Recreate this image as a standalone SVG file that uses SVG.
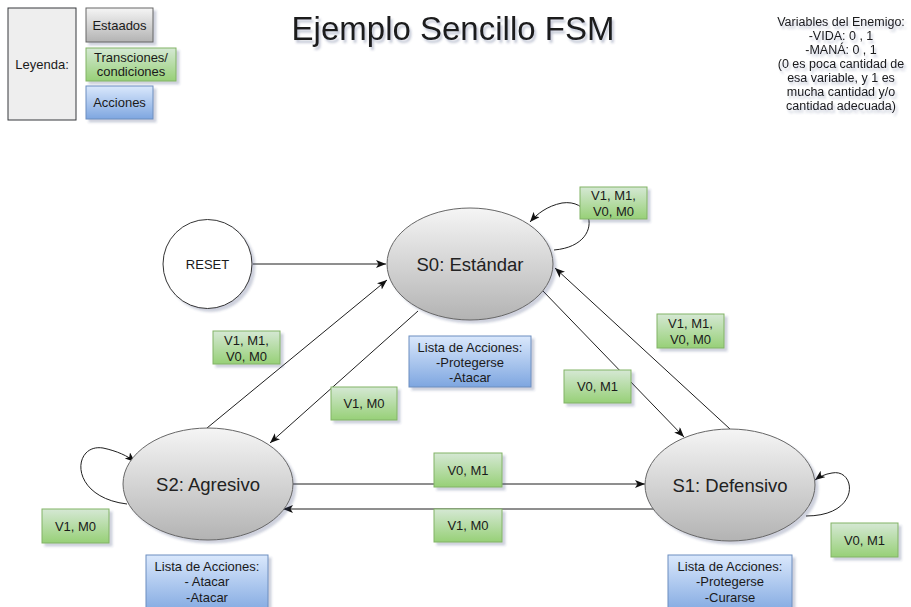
<svg xmlns="http://www.w3.org/2000/svg" width="911" height="607" viewBox="0 0 911 607">
  <style>
    text { font-family: "Liberation Sans", Arial, sans-serif; fill: #1a1a1a; }
    .lbl { font-size: 13px; text-anchor: middle; }
    .small { font-size: 12.5px; text-anchor: middle; }
    .state { font-size: 18.5px; text-anchor: middle; fill: #222; }
    .edge { fill: none; stroke: #1f1f1f; stroke-width: 1; }
    .green { fill: url(#gGreen); stroke: #82b366; stroke-width: 1; filter: url(#shadow); }
    .blue { fill: url(#gBlue); stroke: #6c8ebf; stroke-width: 1; filter: url(#shadow); }
    .gray { fill: url(#gGray); stroke: #666666; stroke-width: 1; filter: url(#shadow); }
  </style>
  <defs>
    <linearGradient id="gGreen" x1="0" y1="0" x2="0" y2="1">
      <stop offset="0" stop-color="#d5e8d4"/>
      <stop offset="1" stop-color="#97d077"/>
    </linearGradient>
    <linearGradient id="gBlue" x1="0" y1="0" x2="0" y2="1">
      <stop offset="0" stop-color="#dae8fc"/>
      <stop offset="1" stop-color="#7ea6e0"/>
    </linearGradient>
    <linearGradient id="gGray" x1="0" y1="0" x2="0" y2="1">
      <stop offset="0" stop-color="#f5f5f5"/>
      <stop offset="1" stop-color="#b3b3b3"/>
    </linearGradient>
    <filter id="shadow" x="-20%" y="-20%" width="150%" height="150%">
      <feGaussianBlur in="SourceAlpha" stdDeviation="1.2"/>
      <feOffset dx="2.5" dy="3" result="off"/>
      <feFlood flood-color="#3c4a78" flood-opacity="0.25"/>
      <feComposite in2="off" operator="in"/>
      <feMerge>
        <feMergeNode/>
        <feMergeNode in="SourceGraphic"/>
      </feMerge>
    </filter>
    <filter id="tshadow" x="-10%" y="-30%" width="120%" height="160%">
      <feGaussianBlur in="SourceAlpha" stdDeviation="1.2"/>
      <feOffset dx="2" dy="2.5" result="off"/>
      <feFlood flood-color="#3c4a78" flood-opacity="0.3"/>
      <feComposite in2="off" operator="in"/>
      <feMerge>
        <feMergeNode/>
        <feMergeNode in="SourceGraphic"/>
      </feMerge>
    </filter>
    <marker id="arrow" markerUnits="userSpaceOnUse" markerWidth="11" markerHeight="9" refX="10" refY="4" orient="auto">
      <path d="M0,0 L10,4 L0,8 L2.5,4 Z" fill="#111"/>
    </marker>
  </defs>

  <rect width="911" height="607" fill="#ffffff"/>

  <!-- Legend -->
  <g id="legend">
    <rect x="8" y="8" width="68" height="112" fill="#eeeeee" stroke="#36393d" stroke-width="1"/>
    <text class="lbl" x="42" y="68.5">Leyenda:</text>
    <rect class="gray" x="86" y="8" width="67" height="34"/>
    <text class="lbl" x="119.5" y="29.5">Estaados</text>
    <rect class="green" x="86" y="48" width="90" height="33"/>
    <text class="lbl" x="131" y="61.5">Transciones/</text>
    <text class="lbl" x="131" y="76">condiciones</text>
    <rect class="blue" x="86" y="86" width="67" height="33"/>
    <text class="lbl" x="119.5" y="107">Acciones</text>
  </g>

  <!-- Title -->
  <g id="title" filter="url(#tshadow)">
    <text x="453" y="40" font-size="33" text-anchor="middle" fill="#111">Ejemplo Sencillo FSM</text>
  </g>

  <!-- Enemy variables note -->
  <g id="variables" filter="url(#tshadow)">
    <text class="small" x="841" y="26">Variables del Enemigo:</text>
    <text class="small" x="841" y="40">-VIDA: 0 , 1</text>
    <text class="small" x="841" y="54">-MANÁ: 0 , 1</text>
    <text class="small" x="841" y="68">(0 es poca cantidad de</text>
    <text class="small" x="841" y="82">esa variable, y 1 es</text>
    <text class="small" x="841" y="96">mucha cantidad y/o</text>
    <text class="small" x="841" y="110">cantidad adecuada)</text>
  </g>

  <!-- Transitions -->
  <g id="connectors">
    <line class="edge" x1="253" y1="264" x2="386" y2="264" marker-end="url(#arrow)"/>
    <line class="edge" x1="207" y1="428" x2="387" y2="280" marker-end="url(#arrow)"/>
    <line class="edge" x1="418" y1="311" x2="270" y2="443" marker-end="url(#arrow)"/>
    <line class="edge" x1="542" y1="290" x2="684" y2="437" marker-end="url(#arrow)"/>
    <line class="edge" x1="730" y1="429" x2="555" y2="268" marker-end="url(#arrow)"/>
    <line class="edge" x1="293" y1="484" x2="645" y2="484" marker-end="url(#arrow)"/>
    <line class="edge" x1="656" y1="509" x2="283" y2="509" marker-end="url(#arrow)"/>
    <path class="edge" d="M554 250 C603 246 596 198 562 203 C547 206 537 214 530 222" marker-end="url(#arrow)"/>
    <path class="edge" d="M127 504 C68 497 72 443 103 448 C117 451 128 456 135 462" marker-end="url(#arrow)"/>
    <path class="edge" d="M806 516 C862 516 856 468 832 473 C825 474 819 477 815 480" marker-end="url(#arrow)"/>
  </g>

  <!-- States -->
  <g id="reset">
    <circle cx="207.5" cy="264" r="44.5" fill="#ffffff" stroke="#333" stroke-width="1" filter="url(#shadow)"/>
    <text x="207.5" y="268.5" font-size="13" text-anchor="middle">RESET</text>
  </g>
  <g id="s0">
    <ellipse class="gray" cx="470" cy="264" rx="83" ry="56"/>
    <text class="state" x="470" y="270.5">S0: Estándar</text>
  </g>
  <g id="s2">
    <ellipse class="gray" cx="208" cy="484" rx="85" ry="56"/>
    <text class="state" x="208" y="490.5">S2: Agresivo</text>
  </g>
  <g id="s1">
    <ellipse class="gray" cx="730" cy="485" rx="85" ry="56"/>
    <text class="state" x="730" y="491.5">S1: Defensivo</text>
  </g>

  <!-- Transition conditions -->
  <g id="cond-s0-loop">
    <rect class="green" x="580" y="187" width="67" height="32"/>
    <text class="lbl" x="613.5" y="200">V1, M1,</text>
    <text class="lbl" x="613.5" y="216">V0, M0</text>
  </g>
  <g id="cond-s2-s0">
    <rect class="green" x="213" y="331" width="67" height="33"/>
    <text class="lbl" x="246.5" y="344.5">V1, M1,</text>
    <text class="lbl" x="246.5" y="360.5">V0, M0</text>
  </g>
  <g id="cond-s0-s2">
    <rect class="green" x="331" y="387" width="66" height="33"/>
    <text class="lbl" x="364" y="408">V1, M0</text>
  </g>
  <g id="cond-s1-s0">
    <rect class="green" x="657" y="314" width="67" height="34"/>
    <text class="lbl" x="690.5" y="328">V1, M1,</text>
    <text class="lbl" x="690.5" y="344">V0, M0</text>
  </g>
  <g id="cond-s0-s1">
    <rect class="green" x="564" y="370" width="67" height="33"/>
    <text class="lbl" x="597.5" y="391">V0, M1</text>
  </g>
  <g id="cond-s2-s1">
    <rect class="green" x="434" y="453" width="68" height="34"/>
    <text class="lbl" x="468" y="474.5">V0, M1</text>
  </g>
  <g id="cond-s1-s2">
    <rect class="green" x="434" y="509" width="68" height="33"/>
    <text class="lbl" x="468" y="530">V1, M0</text>
  </g>
  <g id="cond-s2-loop">
    <rect class="green" x="42" y="509" width="67" height="34"/>
    <text class="lbl" x="75.5" y="530.5">V1, M0</text>
  </g>
  <g id="cond-s1-loop">
    <rect class="green" x="831" y="523" width="67" height="34"/>
    <text class="lbl" x="864.5" y="544.5">V0, M1</text>
  </g>

  <!-- Actions -->
  <g id="actions-s0">
    <rect class="blue" x="409" y="336" width="122" height="51"/>
    <text class="lbl" x="470" y="351.5">Lista de Acciones:</text>
    <text class="lbl" x="470" y="366.5">-Protegerse</text>
    <text class="lbl" x="470" y="382">-Atacar</text>
  </g>
  <g id="actions-s2">
    <rect class="blue" x="146" y="555" width="122" height="60"/>
    <text class="lbl" x="207" y="570.5">Lista de Acciones:</text>
    <text class="lbl" x="207" y="586">- Atacar</text>
    <text class="lbl" x="207" y="601.5">-Atacar</text>
  </g>
  <g id="actions-s1">
    <rect class="blue" x="668" y="555" width="124" height="60"/>
    <text class="lbl" x="730" y="570.5">Lista de Acciones:</text>
    <text class="lbl" x="730" y="586">-Protegerse</text>
    <text class="lbl" x="730" y="601.5">-Curarse</text>
  </g>
</svg>
